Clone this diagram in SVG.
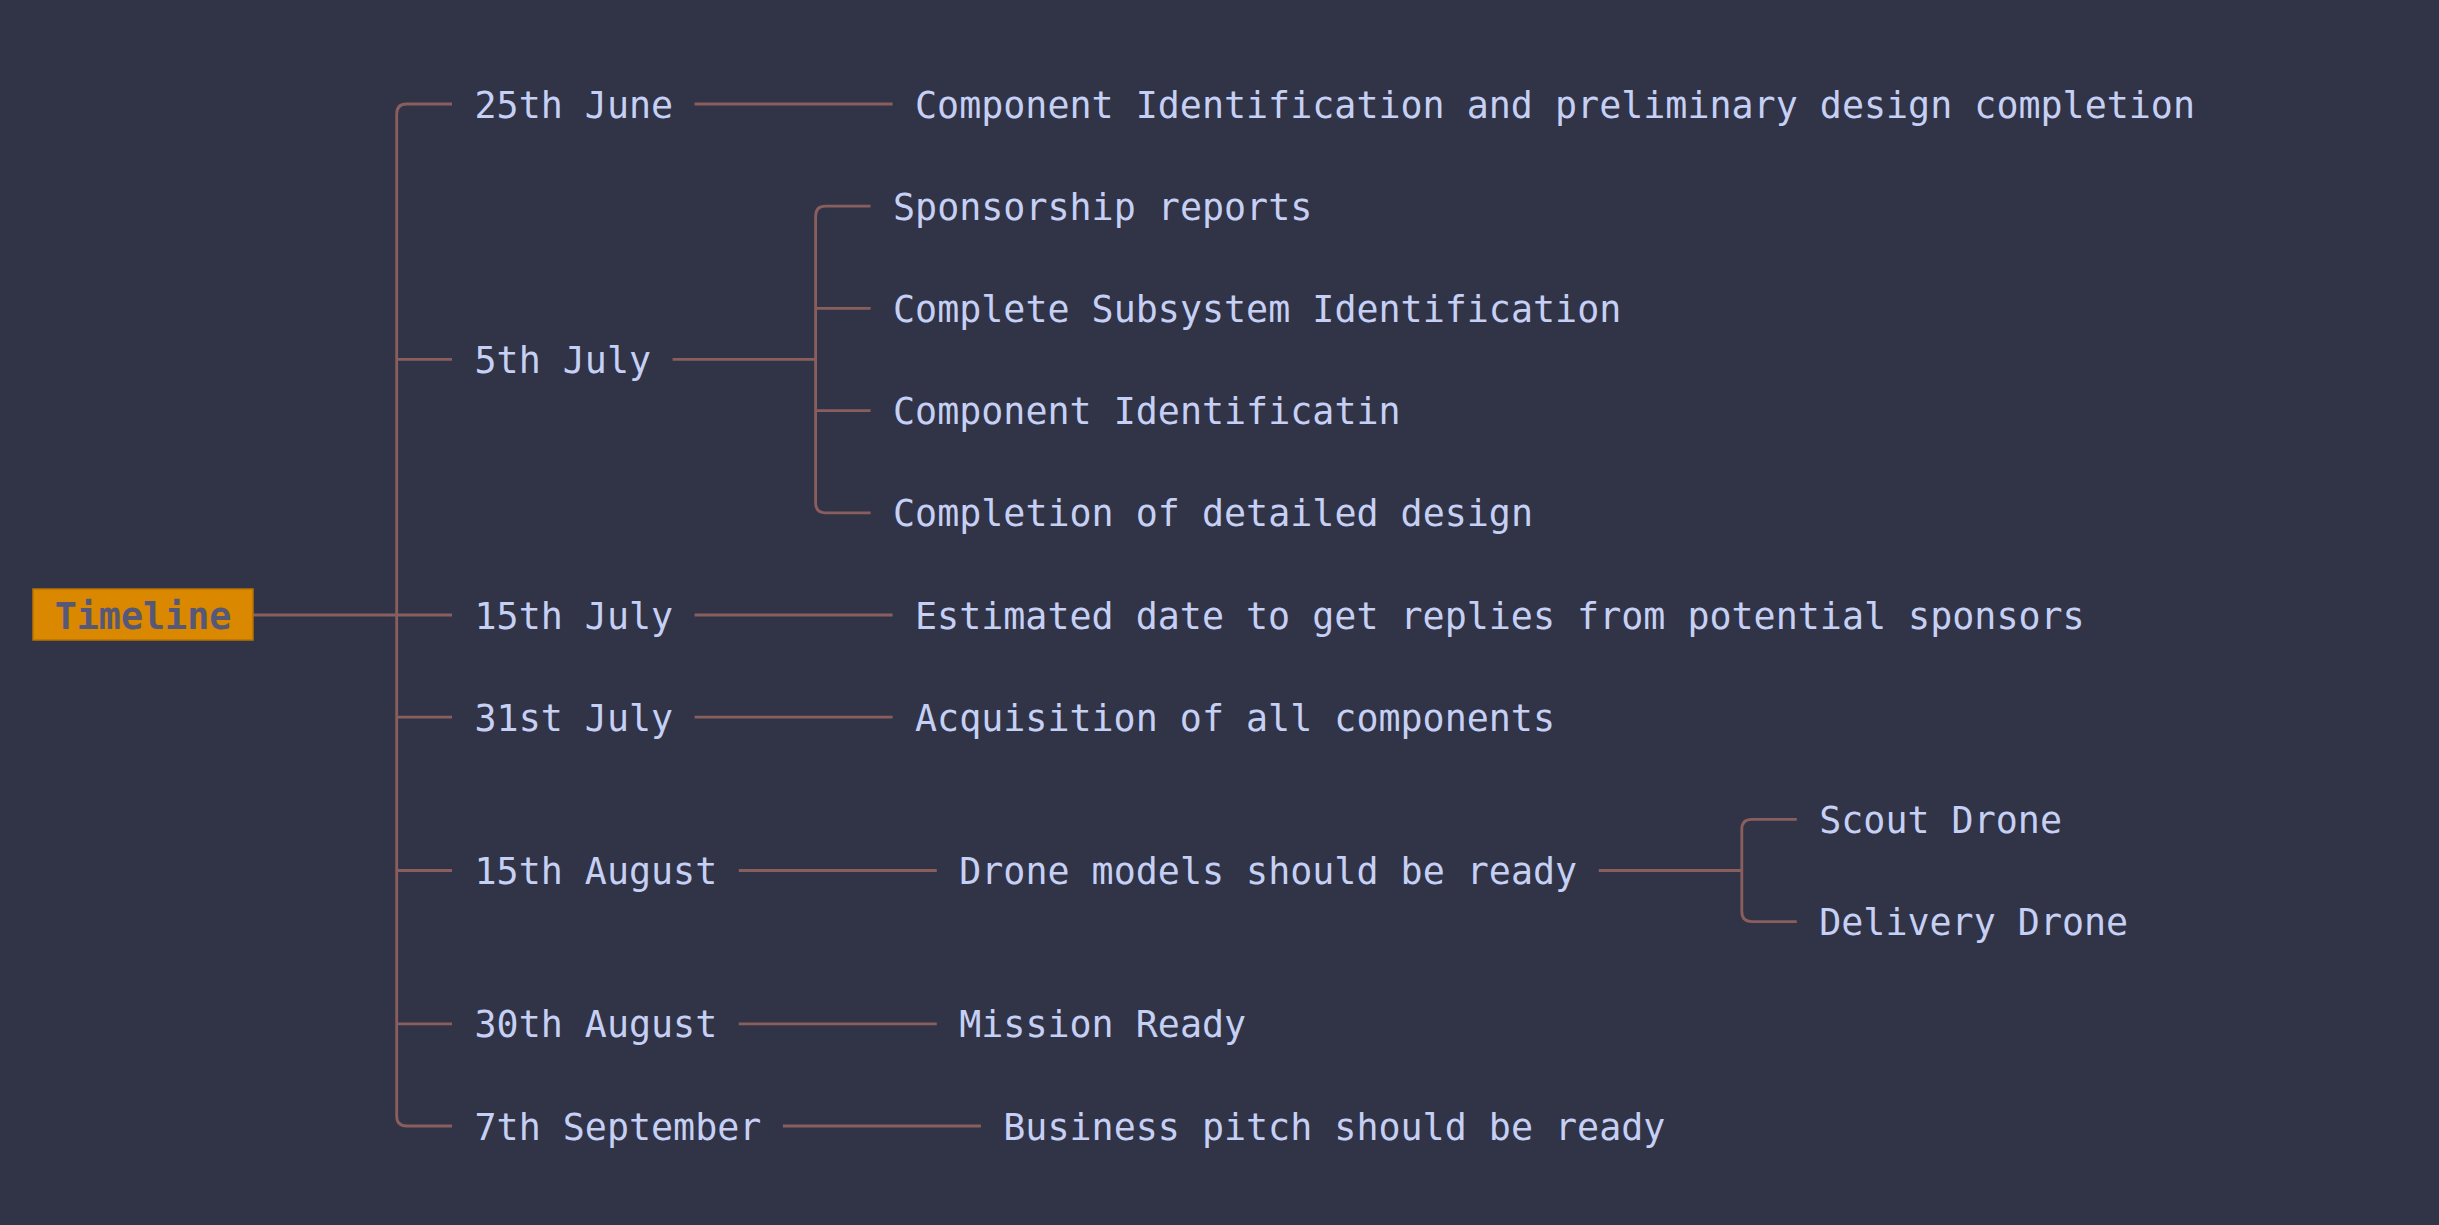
<svg xmlns="http://www.w3.org/2000/svg" width="2439" height="1225" viewBox="0 0 2439 1225">
<style>
.t{font-family:"DejaVu Sans Mono","Liberation Mono",monospace;font-size:36.67px;fill:#c6d0f5}
.root{font-family:"DejaVu Sans Mono","Liberation Mono",monospace;font-size:36.67px;font-weight:bold;fill:#555878}
.c{fill:none;stroke:#8a5e5c;stroke-width:2.8}
</style>
<rect width="2439" height="1225" fill="#313447"/>
<g id="connectors">
<path class="c" d="M253,615 H396.7"/>
<path class="c" d="M452,104 H406.7 Q396.7,104 396.7,114 V1116 Q396.7,1126 406.7,1126 H452"/>
<path class="c" d="M396.7,359.3 H452"/>
<path class="c" d="M396.7,615 H452"/>
<path class="c" d="M396.7,717.2 H452"/>
<path class="c" d="M396.7,870.5 H452"/>
<path class="c" d="M396.7,1023.8 H452"/>
<path class="c" d="M694.6,104 H892.6"/>
<path class="c" d="M672.6,359.3 H815.6"/>
<path class="c" d="M870.6,206.2 H825.6 Q815.6,206.2 815.6,216.2 V502.8 Q815.6,512.8 825.6,512.8 H870.6"/>
<path class="c" d="M815.6,308.4 H870.6"/>
<path class="c" d="M815.6,410.6 H870.6"/>
<path class="c" d="M694.6,615 H892.6"/>
<path class="c" d="M694.6,717.2 H892.6"/>
<path class="c" d="M738.8,870.5 H936.8"/>
<path class="c" d="M1598.8,870.5 H1741.8"/>
<path class="c" d="M1796.8,819.4 H1751.8 Q1741.8,819.4 1741.8,829.4 V911.6 Q1741.8,921.6 1751.8,921.6 H1796.8"/>
<path class="c" d="M738.8,1023.8 H936.8"/>
<path class="c" d="M782.9,1126 H980.9"/>
</g>
<g id="node-timeline">
<rect x="33" y="589" width="220" height="51" fill="#d98800" stroke="#b87300" stroke-width="1.5"/>
<text class="root" x="143" y="629" text-anchor="middle">Timeline</text>
</g>
<g id="node-25june"><text class="t" x="474.5" y="117.5">25th June</text></g>
<g id="node-25june-c"><text class="t" x="915" y="117.5">Component Identification and preliminary design completion</text></g>
<g id="node-5july"><text class="t" x="474.5" y="372.8">5th July</text></g>
<g id="node-sponsorship"><text class="t" x="893" y="219.7">Sponsorship reports</text></g>
<g id="node-subsystem"><text class="t" x="893" y="321.9">Complete Subsystem Identification</text></g>
<g id="node-component"><text class="t" x="893" y="424.1">Component Identificatin</text></g>
<g id="node-detailed"><text class="t" x="893" y="526.3">Completion of detailed design</text></g>
<g id="node-15july"><text class="t" x="474.5" y="628.5">15th July</text></g>
<g id="node-15july-c"><text class="t" x="915" y="628.5">Estimated date to get replies from potential sponsors</text></g>
<g id="node-31july"><text class="t" x="474.5" y="730.7">31st July</text></g>
<g id="node-31july-c"><text class="t" x="915" y="730.7">Acquisition of all components</text></g>
<g id="node-15aug"><text class="t" x="474.5" y="884">15th August</text></g>
<g id="node-15aug-c"><text class="t" x="959.2" y="884">Drone models should be ready</text></g>
<g id="node-scout"><text class="t" x="1819.2" y="832.9">Scout Drone</text></g>
<g id="node-delivery"><text class="t" x="1819.2" y="935.1">Delivery Drone</text></g>
<g id="node-30aug"><text class="t" x="474.5" y="1037.3">30th August</text></g>
<g id="node-30aug-c"><text class="t" x="959.2" y="1037.3">Mission Ready</text></g>
<g id="node-7sep"><text class="t" x="474.5" y="1139.5">7th September</text></g>
<g id="node-7sep-c"><text class="t" x="1003.3" y="1139.5">Business pitch should be ready</text></g>
</svg>
